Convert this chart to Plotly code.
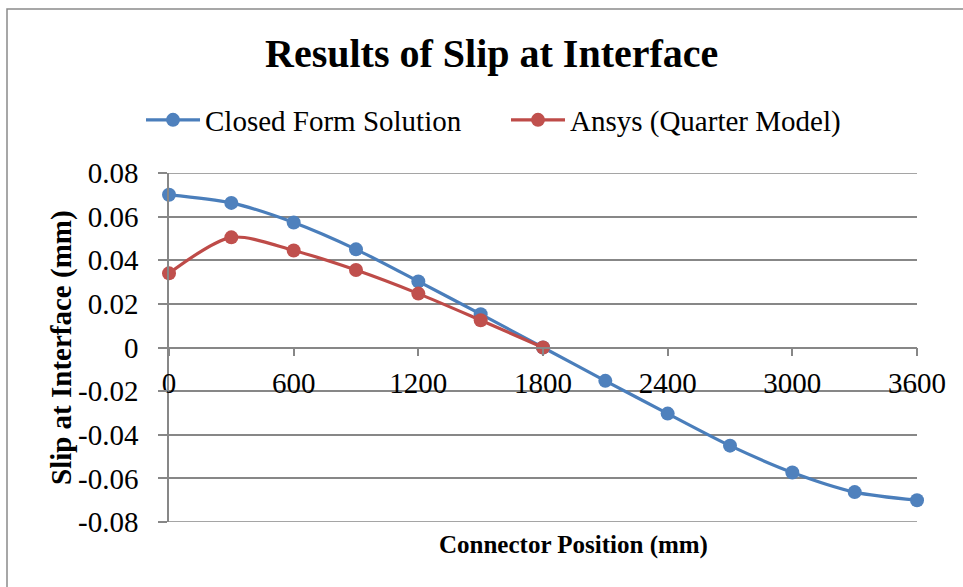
import plotly.graph_objects as go

# Connector positions along the beam (mm)
closed_x = [0, 300, 600, 900, 1200, 1500, 1800, 2100, 2400, 2700, 3000, 3300, 3600]
closed_slip = [0.070, 0.0663, 0.0573, 0.0450, 0.0303, 0.0153, 0.0,
               -0.0153, -0.0303, -0.0450, -0.0573, -0.0663, -0.070]

ansys_x = [0, 300, 600, 900, 1200, 1500, 1800]
ansys_slip = [0.0340, 0.0505, 0.0445, 0.0355, 0.0247, 0.0125, 0.0]

x_ticks = [0, 600, 1200, 1800, 2400, 3000, 3600]
y_ticks = [-0.08, -0.06, -0.04, -0.02, 0, 0.02, 0.04, 0.06, 0.08]
y_labels = ["-0.08", "-0.06", "-0.04", "-0.02", "0", "0.02", "0.04", "0.06", "0.08"]

BLUE = "#4A7EBB"
RED = "#BE4B48"
GRID = "#878787"
FONT = "Liberation Serif, Times New Roman, serif"

W, H = 963, 587
L, R, T, B = 169, 46, 173, 65
pw, ph = W - L - R, H - T - B


def px_x(p):
    return (p - L) / pw


def px_y(p):
    return (H - B - p) / ph


fig = go.Figure()
fig.add_trace(go.Scatter(
    x=closed_x, y=closed_slip, name="Closed Form Solution",
    mode="lines+markers", line=dict(color=BLUE, width=3.2, shape="spline", smoothing=0.8),
    marker=dict(color="#4F81BD", size=14), cliponaxis=False,
))
fig.add_trace(go.Scatter(
    x=ansys_x, y=ansys_slip, name="Ansys (Quarter Model)",
    mode="lines+markers", line=dict(color=RED, width=3.2, shape="spline", smoothing=0.8),
    marker=dict(color="#C0504D", size=14), cliponaxis=False,
))

# gridlines at the top and bottom of the value range (edge gridlines are
# suppressed by plotly where they meet the plot border)
edge_grid = [
    dict(type="line", xref="paper", yref="y", x0=0, x1=1, y0=v, y1=v,
         line=dict(color=GRID, width=1.5), layer="below")
    for v in (y_ticks[0], y_ticks[-1])
]

fig.update_layout(
    width=W, height=H,
    margin=dict(l=L, r=R, t=T, b=B),
    paper_bgcolor="white", plot_bgcolor="white",
    font=dict(family=FONT, size=29, color="black"),
    showlegend=True,
    legend=dict(
        orientation="h", x=px_x(141), y=px_y(120), xanchor="left", yanchor="middle",
        font=dict(family=FONT, size=29, color="black"), itemwidth=54,
        entrywidth=296, entrywidthmode="pixels",
        bgcolor="rgba(0,0,0,0)",
    ),
    annotations=[
        dict(text="<b>Results of Slip at Interface</b>", xref="paper", yref="paper",
             x=px_x(491), y=px_y(53), xanchor="center", yanchor="middle",
             showarrow=False, font=dict(family=FONT, size=40)),
        dict(text="<b>Connector Position (mm)</b>", xref="paper", yref="paper",
             x=px_x(573), y=px_y(545), xanchor="center", yanchor="middle",
             showarrow=False, font=dict(family=FONT, size=25)),
        dict(text="<b>Slip at Interface (mm)</b>", xref="paper", yref="paper",
             x=px_x(61), y=px_y(348), xanchor="center", yanchor="middle",
             textangle=-90, showarrow=False, font=dict(family=FONT, size=29)),
    ],
    shapes=[
        dict(type="rect", xref="paper", yref="paper",
             x0=px_x(7), x1=px_x(990), y0=px_y(9), y1=px_y(620),
             line=dict(color="#8A8A8A", width=1.5), fillcolor="rgba(0,0,0,0)", layer="below"),
    ] + edge_grid,
)

fig.update_xaxes(
    range=[0, 3600], tickvals=x_ticks, ticktext=[str(v) for v in x_ticks],
    anchor="free", position=0.5,
    showline=True, linecolor=GRID, linewidth=1.5,
    ticks="outside", ticklen=8, tickcolor=GRID, tickwidth=1.5,
    showgrid=False, zeroline=False, ticklabelstandoff=2,
    tickfont=dict(family=FONT, size=29),
)
fig.update_yaxes(
    range=[-0.08, 0.08], tickvals=y_ticks, ticktext=y_labels,
    showline=True, linecolor=GRID, linewidth=1.5,
    ticks="outside", ticklen=9, tickcolor=GRID, tickwidth=1.5,
    showgrid=True, gridcolor=GRID, gridwidth=1.5, zeroline=False,
    ticklabelstandoff=14,
    tickfont=dict(family=FONT, size=29),
)

fig.write_html("out.html")
